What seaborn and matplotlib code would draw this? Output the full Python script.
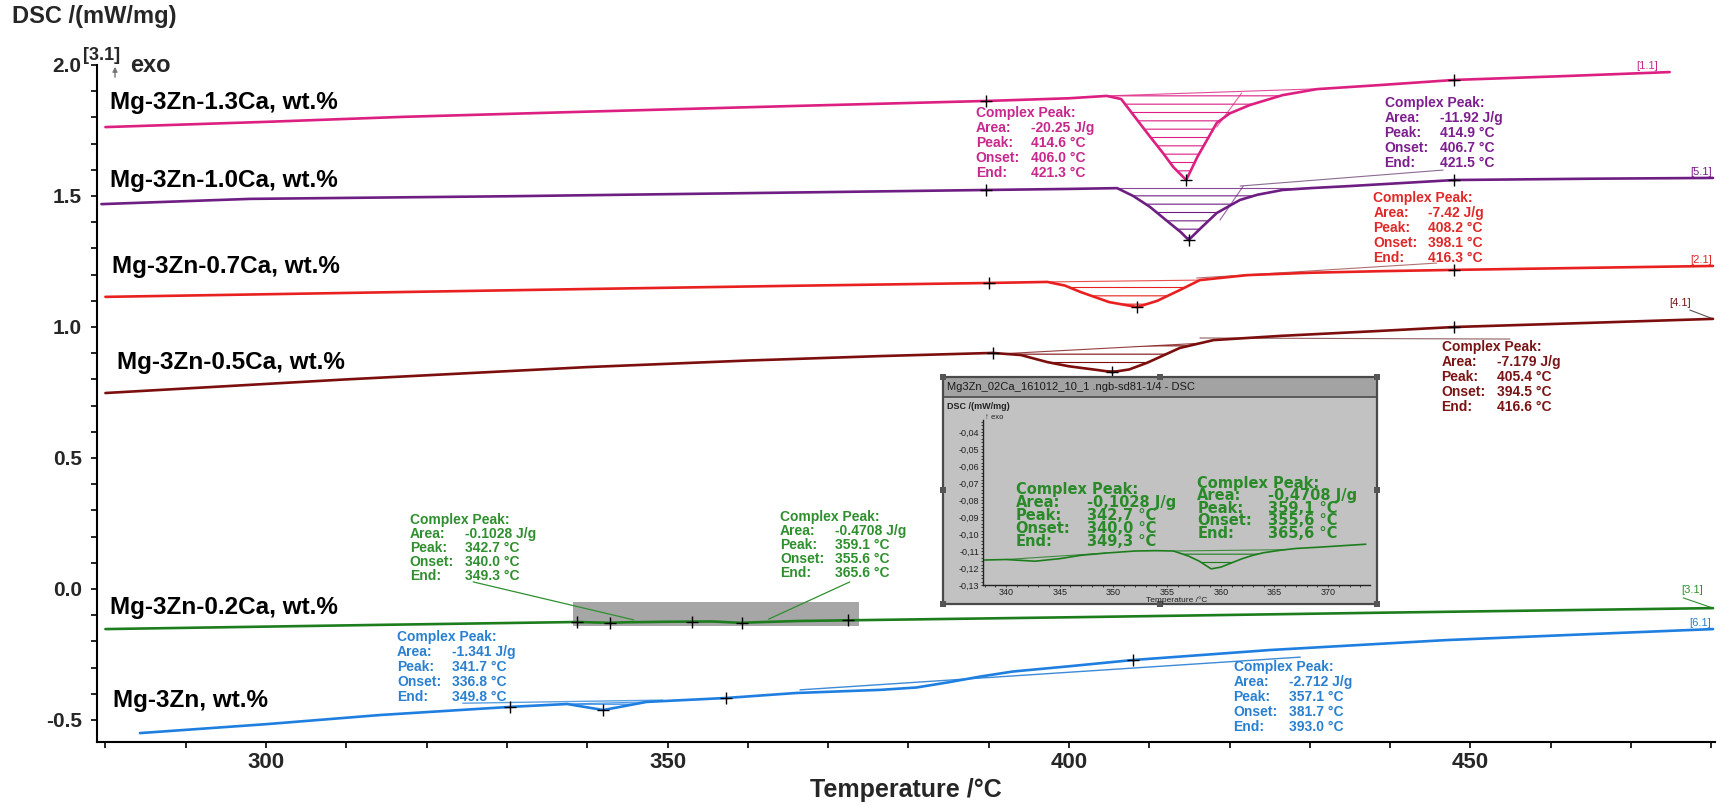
import numpy as np
import matplotlib
matplotlib.use("Agg")
import matplotlib.pyplot as plt
import seaborn as sns
from matplotlib.patches import Rectangle
from matplotlib.ticker import MultipleLocator, FuncFormatter

# ---------------- data ----------------
t_13 = [280, 300, 317, 340, 365, 390, 400, 404.7, 406.5, 408.5, 410, 411.7, 413, 414.6, 416, 418.4, 420, 422.5, 426.6, 430.9, 439, 448, 462, 474.8]
v_13 = [1.763, 1.783, 1.802, 1.822, 1.843, 1.863, 1.873, 1.882, 1.870, 1.79, 1.73, 1.664, 1.61, 1.561, 1.65, 1.779, 1.815, 1.847, 1.885, 1.908, 1.924, 1.943, 1.958, 1.973]

t_10 = [279.5, 298, 330, 360, 389.7, 400, 406, 408, 410.1, 412, 414, 414.9, 416.5, 418.4, 421.3, 423.5, 426.6, 430, 435, 448, 465, 480.2]
v_10 = [1.469, 1.489, 1.499, 1.511, 1.523, 1.527, 1.530, 1.50, 1.458, 1.41, 1.36, 1.332, 1.38, 1.435, 1.485, 1.505, 1.523, 1.530, 1.538, 1.561, 1.566, 1.569]

t_07 = [280, 310, 340, 365, 390, 397.3, 399.5, 401.4, 405, 408.5, 411, 413.8, 416.3, 422.2, 430, 438.7, 448, 465, 480.2]
v_07 = [1.115, 1.130, 1.145, 1.157, 1.168, 1.172, 1.158, 1.134, 1.095, 1.076, 1.10, 1.141, 1.179, 1.198, 1.207, 1.213, 1.218, 1.226, 1.233]

t_05 = [280, 310, 340, 360, 376.5, 390.5, 394, 397.3, 400, 403.5, 405.4, 407.5, 409.7, 413.8, 418, 426.3, 438.7, 448, 465, 480.2]
v_05 = [0.748, 0.800, 0.847, 0.872, 0.889, 0.901, 0.893, 0.866, 0.850, 0.836, 0.828, 0.838, 0.863, 0.920, 0.950, 0.966, 0.985, 1.000, 1.016, 1.031]

t_02 = [280, 314, 338.7, 340, 342.7, 345, 350, 355.6, 359.1, 362, 366.5, 400, 440, 480.2]
v_02 = [-0.153, -0.137, -0.126, -0.127, -0.129, -0.127, -0.125, -0.124, -0.129, -0.126, -0.122, -0.108, -0.090, -0.073]

t_00 = [284.3, 300, 314.2, 330.4, 337.5, 342.0, 347.4, 357.3, 366, 376.5, 381, 385, 389, 393, 400, 408, 425, 447, 465, 480.2]
v_00 = [-0.550, -0.516, -0.481, -0.450, -0.439, -0.462, -0.431, -0.416, -0.397, -0.385, -0.376, -0.356, -0.334, -0.315, -0.295, -0.271, -0.233, -0.195, -0.172, -0.153]

# inset (zoom of the 0.2Ca curve)
t_in = [338, 340, 342.7, 345, 347, 349.3, 352, 354, 355.6, 357, 358, 359.1, 360, 361, 362, 363, 364, 365.6, 367, 369, 371, 373.5]
v_in = [-0.1153, -0.1150, -0.1160, -0.1145, -0.1125, -0.1112, -0.1100, -0.1098, -0.1100, -0.1130, -0.1160, -0.1205, -0.1195, -0.1170, -0.1145, -0.1125, -0.1110, -0.1095, -0.1085, -0.1078, -0.1070, -0.1060]

curve_labels = ["Mg-3Zn-1.3Ca, wt.%", "Mg-3Zn-1.0Ca, wt.%", "Mg-3Zn-0.7Ca, wt.%",
                "Mg-3Zn-0.5Ca, wt.%", "Mg-3Zn-0.2Ca, wt.%", "Mg-3Zn, wt.%"]
label_t = [280.6, 280.6, 280.8, 281.4, 280.6, 280.9]
label_v = [1.855, 1.561, 1.229, 0.863, -0.069, -0.424]

tags = ["[1.1]", "[5.1]", "[2.1]", "[4.1]", "[3.1]", "[6.1]"]
tag_t = [472.0, 478.7, 478.7, 476.1, 477.6, 478.6]
tag_v = [1.996, 1.592, 1.256, 1.092, -0.004, -0.130]

# "+" marker temperatures on each curve
marks_13 = [389.7, 414.6, 448]
marks_10 = [389.7, 414.9, 448]
marks_07 = [390.0, 408.5, 448]
marks_05 = [390.5, 405.4, 448]
marks_02 = [338.7, 342.8, 353.0, 359.3, 372.5]
marks_00 = [330.4, 342.0, 357.3, 408.0]

# integration ranges (hatched)
rng_13 = (404.7, 432.0)
rng_10 = (406.0, 430.0)
rng_07 = (397.3, 416.3)
rng_05 = (391.8, 416.3)
rng_00 = (337.5, 347.4)
rng_in = [(340.0, 349.3), (355.6, 366.0)]

row_names = ["Complex Peak:", "Area:", "Peak:", "Onset:", "End:"]
ann_13 = ["-20.25 J/g", "414.6 °C", "406.0 °C", "421.3 °C"]
ann_10 = ["-11.92 J/g", "414.9 °C", "406.7 °C", "421.5 °C"]
ann_07 = ["-7.42 J/g", "408.2 °C", "398.1 °C", "416.3 °C"]
ann_05 = ["-7.179 J/g", "405.4 °C", "394.5 °C", "416.6 °C"]
ann_02a = ["-0.1028 J/g", "342.7 °C", "340.0 °C", "349.3 °C"]
ann_02b = ["-0.4708 J/g", "359.1 °C", "355.6 °C", "365.6 °C"]
ann_00a = ["-1.341 J/g", "341.7 °C", "336.8 °C", "349.8 °C"]
ann_00b = ["-2.712 J/g", "357.1 °C", "381.7 °C", "393.0 °C"]
ann_ina = ["-0,1028 J/g", "342,7 °C", "340,0 °C", "349,3 °C"]
ann_inb = ["-0,4708 J/g", "359,1 °C", "355,6 °C", "365,6 °C"]

x_ticks = [300, 350, 400, 450]
x_ticklabels = ["300", "350", "400", "450"]
y_ticks = [-0.5, 0.0, 0.5, 1.0, 1.5, 2.0]
y_ticklabels = ["-0.5", "0.0", "0.5", "1.0", "1.5", "2.0"]
in_xticks = [340, 345, 350, 355, 360, 365, 370]
in_yticks = [-0.13, -0.12, -0.11, -0.10, -0.09, -0.08, -0.07, -0.06, -0.05, -0.04]

# ---------------- style ----------------
sns.set_theme(style="white")
plt.rcParams["font.family"] = ["Liberation Sans", "DejaVu Sans"]
plt.rcParams["hatch.linewidth"] = 0.8

W, H = 1723, 805
fig = plt.figure(figsize=(W / 100, H / 100), dpi=100)
ax = fig.add_axes([97 / W, 1 - 742 / H, (1715 - 97) / W, (742 - 65) / H])
ax.set_facecolor("white")

series = [
    (t_13, v_13, "#dc1f80", "#c8288c", marks_13, rng_13),
    (t_10, v_10, "#6e1e82", "#7c1e8e", marks_10, rng_10),
    (t_07, v_07, "#e82020", "#e02828", marks_07, rng_07),
    (t_05, v_05, "#7d0e0e", "#7a1414", marks_05, rng_05),
    (t_02, v_02, "#1d7d1d", "#2f8f2f", marks_02, None),
    (t_00, v_00, "#1f7fe0", "#2a80d0", marks_00, rng_00),
]

# zoom window box on the 0.2Ca curve
ax.add_patch(Rectangle((338.2, -0.141), 35.6, 0.091, facecolor="#a6a6a6", edgecolor="none", zorder=1))


def hatch_peak(a, t, v, t0, t1, color):
    t = np.asarray(t, float)
    v = np.asarray(v, float)
    v0, v1 = np.interp([t0, t1], t, v)
    m = (t > t0) & (t < t1)
    tt = np.concatenate([[t0], t[m], [t1]])
    vv = np.concatenate([[v0], v[m], [v1]])
    base = v0 + (v1 - v0) * (tt - t0) / (t1 - t0)
    a.fill_between(tt, vv, base, facecolor="none", edgecolor=color, hatch="--", linewidth=0, zorder=2)
    a.plot([t0, t1], [v0, v1], color=color, lw=0.8, alpha=0.8, zorder=2)


for (t, v, lc, tc, mk, rng) in series:
    sns.lineplot(x=t, y=v, ax=ax, color=lc, linewidth=1.9, estimator=None, sort=False, legend=False, zorder=3)
    if rng is not None:
        hatch_peak(ax, t, v, rng[0], rng[1], lc)
    ax.plot(mk, np.interp(mk, t, v), linestyle="none", marker="+", color="black", ms=9, mew=1.0, zorder=4)

# tangent / helper lines
ax.plot([421.5, 418.4], [1.893, 1.763], color="#dc1f80", lw=0.8, alpha=0.7)
ax.plot([421.7, 418.8], [1.538, 1.408], color="#6e1e82", lw=0.8, alpha=0.7)
ax.plot([324.5, 349.4], [-0.436, -0.424], color="#5aa0e0", lw=1.0)
ax.plot([366.5, 428.8], [-0.385, -0.260], color="#3d8ad6", lw=1.0)

# leader lines
ax.plot([325.8, 345.8], [0.027, -0.118], color="#2f8f2f", lw=0.9)
ax.plot([372.7, 362.6], [0.027, -0.115], color="#2f8f2f", lw=0.9)
ax.plot([446.6, 421.3], [1.599, 1.538], color="#8a6a90", lw=0.8)
ax.plot([445.8, 415.9], [1.244, 1.187], color="#b07070", lw=0.8)
ax.plot([454.9, 416.3], [0.954, 0.958], color="#906060", lw=0.8)
ax.plot([476.5, 480.2], [-0.034, -0.073], color="#2f8f2f", lw=0.8)
ax.plot([477.3, 480.2], [1.065, 1.031], color="#555555", lw=0.8)

# curve labels
for lab, lt, lv in zip(curve_labels, label_t, label_v):
    ax.text(lt, lv, lab, fontsize=17.5, fontweight="bold", color="black", ha="left", va="center")

# tags
tag_colors = ["#c8288c", "#7c1e8e", "#e02828", "#7a1414", "#2f8f2f", "#2a80d0"]
for tg, tt_, tv_, tcol in zip(tags, tag_t, tag_v, tag_colors):
    ax.text(tt_, tv_, tg, fontsize=8, color=tcol, ha="center", va="center")


def annot(a, T, V, values, color, dy=15, dx=55, fs=10, family=None):
    kw = dict(textcoords="offset pixels", color=color, fontsize=fs, fontweight="bold",
              va="center", ha="left", annotation_clip=False)
    if family:
        kw["family"] = family
    for i, name in enumerate(row_names):
        a.annotate(name, (T, V), xytext=(0, -i * dy), **kw)
    for i, val in enumerate(values, start=1):
        a.annotate(val, (T, V), xytext=(dx, -i * dy), **kw)


annot(ax, 388.4, 1.817, ann_13, "#c8288c")
annot(ax, 439.3, 1.855, ann_10, "#7c1e8e")
annot(ax, 437.9, 1.492, ann_07, "#e02828")
annot(ax, 446.4, 0.924, ann_05, "#7a1414")
annot(ax, 317.9, 0.263, ann_02a, "#2f8f2f", dy=14)
annot(ax, 364.0, 0.275, ann_02b, "#2f8f2f", dy=14)
annot(ax, 316.3, -0.183, ann_00a, "#2a80d0")
annot(ax, 420.5, -0.298, ann_00b, "#2a80d0")

# axes styling
ax.set_xlim(278.95, 480.45)
ax.set_ylim(-0.584, 2.0)
ax.spines["top"].set_visible(False)
ax.spines["right"].set_visible(False)
for s in ("left", "bottom"):
    ax.spines[s].set_color("black")
    ax.spines[s].set_linewidth(1.5)
ax.set_xticks(x_ticks, labels=x_ticklabels, fontsize=16, fontweight="bold")
ax.set_yticks(y_ticks, labels=y_ticklabels, fontsize=15, fontweight="bold")
ax.xaxis.set_minor_locator(MultipleLocator(10))
ax.yaxis.set_minor_locator(MultipleLocator(0.1))
ax.tick_params(which="both", direction="out", length=4, width=1.2, color="black",
               bottom=True, left=True)
ax.tick_params(axis="x", pad=3)
ax.tick_params(axis="y", pad=7)
ax.set_xlabel("Temperature /°C", fontsize=18, fontweight="bold", labelpad=4)
ax.set_ylabel("")

fig.text(12 / W, 1 - 17 / H, "DSC /(mW/mg)", fontsize=17, fontweight="bold", ha="left", va="center")
fig.text(102 / W, 1 - 56 / H, "[3.1]", fontsize=13, fontweight="bold", ha="center", va="center")
fig.text(130 / W, 1 - 66 / H, "exo", fontsize=17, fontweight="bold", ha="left", va="center")
fig.add_artist(matplotlib.patches.FancyArrowPatch((115 / W, 1 - 80 / H), (115 / W, 1 - 64 / H),
                                                  transform=fig.transFigure, arrowstyle="-|>",
                                                  mutation_scale=7, color="#777777", lw=1))

# ---------------- inset ----------------
fx0, fx1, fy0, fy1 = 943, 1377, 377, 604
frame = fig.add_axes([fx0 / W, 1 - fy1 / H, (fx1 - fx0) / W, (fy1 - fy0) / H])
frame.set_facecolor("#c2c2c2")
frame.set_xticks([])
frame.set_yticks([])
for s in frame.spines.values():
    s.set_color("#4a4a4a")
    s.set_linewidth(1.6)
fh = fy1 - fy0
frame.add_patch(Rectangle((0, 1 - 20 / fh), 1, 20 / fh, transform=frame.transAxes,
                          facecolor="#a3a3a3", edgecolor="#4a4a4a", lw=1.2))
frame.text(4 / (fx1 - fx0), 1 - 10 / fh, "Mg3Zn_02Ca_161012_10_1 .ngb-sd81-1/4 - DSC",
           transform=frame.transAxes, fontsize=8, color="#1a1a1a", ha="left", va="center")
for (hx, hy) in [(fx0, fy0), (1160, fy0), (fx1, fy0), (fx0, 490), (fx1, 490), (fx0, fy1), (1160, fy1), (fx1, fy1)]:
    fig.add_artist(Rectangle(((hx - 3) / W, 1 - (hy + 3) / H), 6 / W, 6 / H,
                             transform=fig.transFigure, facecolor="#555555", edgecolor="none"))

ins = fig.add_axes([983 / W, 1 - 585 / H, (1370 - 983) / W, (585 - 420) / H])
ins.set_facecolor("none")
sns.lineplot(x=t_in, y=v_in, ax=ins, color="#1d7d1d", linewidth=1.2, estimator=None, sort=False, legend=False)
for (a0, a1) in rng_in:
    hatch_peak(ins, t_in, v_in, a0, a1, "#1d7d1d")
ins.set_xlim(337.85, 373.9)
ins.set_ylim(-0.13, -0.0329)
ins.spines["top"].set_visible(False)
ins.spines["right"].set_visible(False)
for s in ("left", "bottom"):
    ins.spines[s].set_color("#222222")
    ins.spines[s].set_linewidth(1.0)
ins.set_xticks(in_xticks)
ins.set_yticks(in_yticks)
ins.xaxis.set_minor_locator(MultipleLocator(1))
ins.yaxis.set_minor_locator(MultipleLocator(0.002))
ins.yaxis.set_major_formatter(FuncFormatter(lambda val, p: f"{val:.2f}".replace(".", ",")))
ins.tick_params(which="both", direction="out", length=1.5, width=0.6, color="#222222",
                labelsize=6.5, labelcolor="#222222", pad=1, bottom=True, left=True)
ins.set_xlabel("")
ins.set_ylabel("")
annot(ins, 340.9, -0.0736, ann_ina, "#2a8a2a", dy=13, dx=71, fs=10.5, family=["DejaVu Sans"])
annot(ins, 357.8, -0.0700, ann_inb, "#2a8a2a", dy=12.5, dx=71, fs=10.5, family=["DejaVu Sans"])
fig.text(947 / W, 1 - 406 / H, "DSC /(mW/mg)", fontsize=6.5, fontweight="bold", color="#222222", ha="left", va="center")
fig.text(985 / W, 1 - 417 / H, "↑ exo", fontsize=5.5, color="#222222", ha="left", va="center")
fig.text(1177 / W, 1 - 600 / H, "Temperature /°C", fontsize=6, color="#222222", ha="center", va="center")

fig.savefig("out.png", dpi=100)
